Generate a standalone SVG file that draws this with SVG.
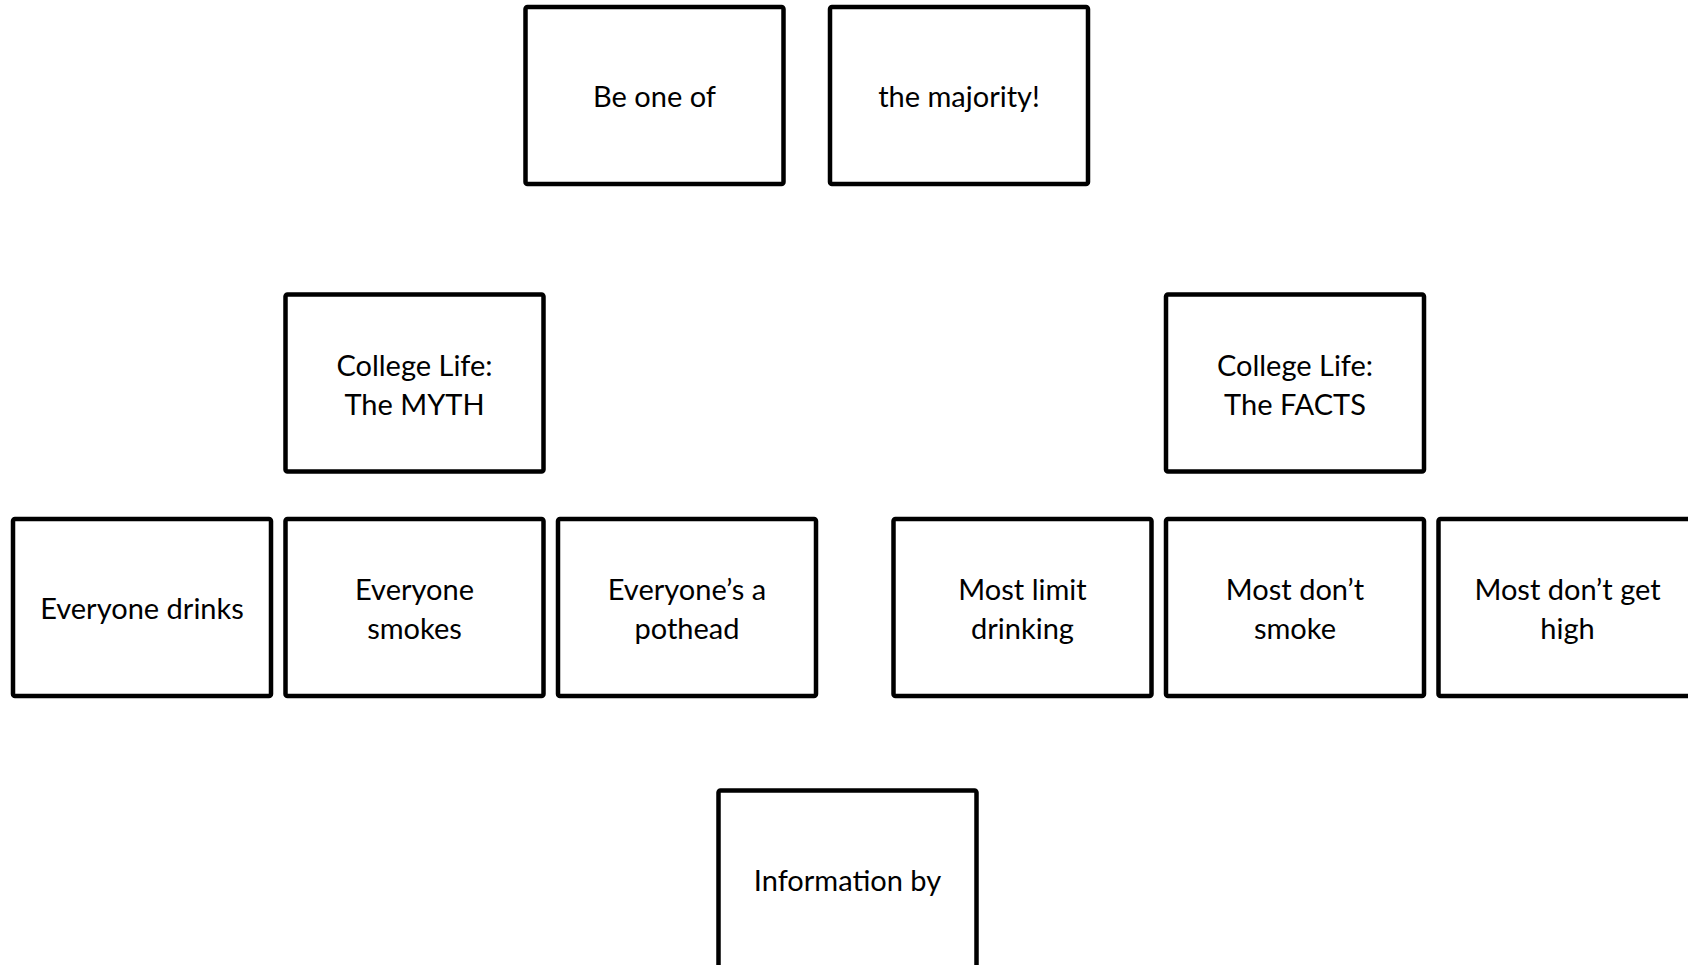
<svg xmlns="http://www.w3.org/2000/svg" width="1688" height="965" viewBox="0 0 1688 965">
<style>
.box{fill:#fff;stroke:#000;stroke-width:4.5}
.t{font-family:Lato,"Open Sans","Liberation Sans",sans-serif;font-size:29px;fill:#000;text-anchor:middle;dominant-baseline:central}
</style>
<rect width="1688" height="965" fill="#fff"/>
<g id="connectors"></g>
<g id="n-be"><rect class="box" x="525.5" y="7" width="258" height="177" rx="2"/><text class="t" x="654.5" y="95.5">Be one of</text></g>
<g id="n-maj"><rect class="box" x="830" y="7" width="258" height="177" rx="2"/><text class="t" x="959" y="95.5">the majority!</text></g>
<g id="n-myth"><rect class="box" x="285.5" y="294.5" width="258" height="177" rx="2"/><text class="t" x="414.5" y="364">College Life:</text><text class="t" x="414.5" y="403">The MYTH</text></g>
<g id="n-facts"><rect class="box" x="1166" y="294.5" width="258" height="177" rx="2"/><text class="t" x="1295" y="364">College Life:</text><text class="t" x="1295" y="403">The FACTS</text></g>
<g id="n-drinks"><rect class="box" x="13" y="519" width="258" height="177" rx="2"/><text class="t" x="142" y="607.5">Everyone drinks</text></g>
<g id="n-smokes"><rect class="box" x="285.5" y="519" width="258" height="177" rx="2"/><text class="t" x="414.5" y="588.5">Everyone</text><text class="t" x="414.5" y="627.5">smokes</text></g>
<g id="n-pothead"><rect class="box" x="558" y="519" width="258" height="177" rx="2"/><text class="t" x="687" y="588.5">Everyone’s a</text><text class="t" x="687" y="627.5">pothead</text></g>
<g id="n-limit"><rect class="box" x="893.5" y="519" width="258" height="177" rx="2"/><text class="t" x="1022.5" y="588.5">Most limit</text><text class="t" x="1022.5" y="627.5">drinking</text></g>
<g id="n-nosmoke"><rect class="box" x="1166" y="519" width="258" height="177" rx="2"/><text class="t" x="1295" y="588.5">Most don’t</text><text class="t" x="1295" y="627.5">smoke</text></g>
<g id="n-nohigh"><rect class="box" x="1438.5" y="519" width="258" height="177" rx="2"/><text class="t" x="1567.5" y="588.5">Most don’t get</text><text class="t" x="1567.5" y="627.5">high</text></g>
<g id="n-info"><rect class="box" x="718.5" y="790.5" width="258" height="177" rx="2"/><text class="t" x="847.5" y="879.5">Information by</text></g>
</svg>
